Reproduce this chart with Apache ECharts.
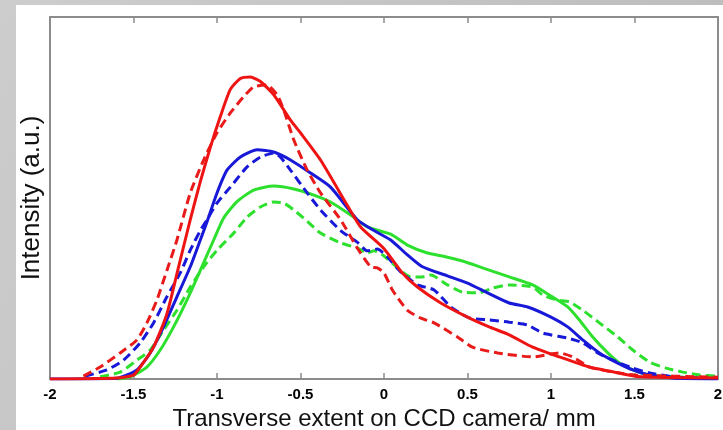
<!DOCTYPE html>
<html>
<head>
<meta charset="utf-8">
<script src="https://cdn.jsdelivr.net/npm/echarts@6/dist/echarts.min.js"></script>
<style>
  html, body { margin: 0; padding: 0; }
  #chart { width: 723px; height: 430px; }
</style>
</head>
<body>
<div id="chart"></div>
<script>
// x ticks
var xTicks = [-2, -1.5, -1, -0.5, 0, 0.5, 1, 1.5, 2];

// profiles [x, intensity]
var redSolid = [
  [-2, 0], [-1.6, 0.003], [-1.5, 0.011], [-1.46, 0.033], [-1.38, 0.088], [-1.3, 0.18],
  [-1.23, 0.31], [-1.16, 0.44], [-1.1, 0.545], [-1.04, 0.64], [-0.98, 0.725],
  [-0.92, 0.8], [-0.86, 0.83], [-0.8, 0.834], [-0.74, 0.822], [-0.66, 0.785], [-0.56, 0.715], [-0.5, 0.68],
  [-0.38, 0.605], [-0.22, 0.48], [-0.14, 0.42], [0, 0.36], [0.11, 0.293], [0.2, 0.254],
  [0.34, 0.21], [0.5, 0.171], [0.63, 0.144], [0.75, 0.122], [0.89, 0.088], [1.05, 0.061],
  [1.23, 0.033], [1.4, 0.017], [1.54, 0.006], [2, 0.003]
];
var redDashed = [
  [-1.8, 0.008], [-1.7, 0.033], [-1.58, 0.072], [-1.48, 0.108], [-1.42, 0.155], [-1.36, 0.218],
  [-1.3, 0.30], [-1.24, 0.384], [-1.16, 0.514], [-1.08, 0.605], [-1.0, 0.68], [-0.92, 0.735],
  [-0.84, 0.78], [-0.78, 0.807], [-0.7, 0.812], [-0.64, 0.785], [-0.6, 0.743], [-0.54, 0.66],
  [-0.46, 0.577], [-0.38, 0.514], [-0.26, 0.44], [-0.16, 0.362], [-0.08, 0.31], [-0.04, 0.307],
  [0, 0.293], [0.05, 0.246], [0.14, 0.19], [0.22, 0.168], [0.3, 0.155], [0.44, 0.116],
  [0.53, 0.088], [0.68, 0.072], [0.89, 0.061], [1.05, 0.072], [1.13, 0.061], [1.23, 0.033],
  [1.4, 0.017], [1.5, 0.011], [2, 0.005]
];
var blueSolid = [
  [-2, 0], [-1.6, 0.002], [-1.48, 0.025], [-1.4, 0.072], [-1.32, 0.144], [-1.24, 0.227],
  [-1.16, 0.31], [-1.1, 0.384], [-1.06, 0.434], [-1.0, 0.514], [-0.94, 0.577], [-0.86, 0.613],
  [-0.76, 0.633], [-0.66, 0.627], [-0.56, 0.605], [-0.44, 0.569], [-0.32, 0.53], [-0.16, 0.44],
  [-0.06, 0.41], [0.04, 0.384], [0.14, 0.343], [0.23, 0.31], [0.38, 0.285], [0.5, 0.265],
  [0.62, 0.238], [0.75, 0.21], [0.86, 0.199], [1.0, 0.171], [1.1, 0.144], [1.19, 0.108],
  [1.29, 0.072], [1.4, 0.044], [1.49, 0.025], [1.59, 0.011], [1.73, 0.003], [2, 0]
];
var blueDashed = [
  [-1.79, 0.008], [-1.66, 0.025], [-1.56, 0.052], [-1.46, 0.1], [-1.38, 0.155], [-1.3, 0.227],
  [-1.22, 0.293], [-1.16, 0.356], [-1.1, 0.41], [-1.06, 0.44], [-1.0, 0.486], [-0.92, 0.53],
  [-0.82, 0.586], [-0.74, 0.613], [-0.66, 0.624], [-0.62, 0.613], [-0.56, 0.577], [-0.46, 0.514],
  [-0.38, 0.467], [-0.26, 0.41], [-0.16, 0.378], [-0.1, 0.354], [-0.04, 0.359], [0.02, 0.337],
  [0.1, 0.296], [0.2, 0.26], [0.3, 0.246], [0.4, 0.199], [0.51, 0.169], [0.63, 0.163],
  [0.75, 0.157], [0.86, 0.149], [0.95, 0.127], [1.1, 0.113], [1.19, 0.1], [1.28, 0.072],
  [1.37, 0.052], [1.49, 0.03], [1.59, 0.017], [1.73, 0.006], [1.9, 0.003]
];
var greenSolid = [
  [-1.6, 0], [-1.52, 0.006], [-1.42, 0.033], [-1.34, 0.08], [-1.26, 0.144], [-1.18, 0.218],
  [-1.1, 0.30], [-1.02, 0.384], [-0.96, 0.445], [-0.88, 0.49], [-0.78, 0.522], [-0.66, 0.533],
  [-0.54, 0.525], [-0.42, 0.508], [-0.32, 0.489], [-0.2, 0.453], [-0.1, 0.42], [0.04, 0.40],
  [0.14, 0.37], [0.26, 0.348], [0.35, 0.34], [0.47, 0.326], [0.59, 0.307], [0.75, 0.282],
  [0.89, 0.26], [0.99, 0.232], [1.1, 0.199], [1.17, 0.163], [1.25, 0.116], [1.34, 0.072],
  [1.41, 0.044], [1.49, 0.025], [1.59, 0.011], [1.73, 0.006], [1.85, 0.003]
];
var greenDashed = [
  [-1.7, 0.006], [-1.58, 0.019], [-1.48, 0.052], [-1.4, 0.08], [-1.32, 0.135], [-1.24, 0.19],
  [-1.16, 0.254], [-1.08, 0.31], [-1.0, 0.356], [-0.9, 0.403], [-0.82, 0.447], [-0.74, 0.475],
  [-0.66, 0.489], [-0.6, 0.486], [-0.54, 0.467], [-0.46, 0.436], [-0.38, 0.403], [-0.26, 0.376],
  [-0.16, 0.362], [-0.1, 0.348], [-0.06, 0.354], [0, 0.34], [0.1, 0.30], [0.16, 0.282],
  [0.23, 0.282], [0.28, 0.287], [0.38, 0.26], [0.47, 0.24], [0.57, 0.238], [0.65, 0.251],
  [0.75, 0.26], [0.89, 0.254], [0.95, 0.232], [1.04, 0.218], [1.11, 0.213], [1.19, 0.19],
  [1.29, 0.155], [1.4, 0.116], [1.49, 0.08], [1.59, 0.047], [1.69, 0.03], [1.79, 0.019],
  [1.89, 0.011], [1.99, 0.008]
];

var chart = echarts.init(document.getElementById("chart"));

function curve(data, color, dashed) {
  return {
    type: "line",
    data: data,
    showSymbol: false,
    smooth: 0.2,
    silent: true,
    lineStyle: {
      color: color,
      width: 3,
      type: dashed ? [9, 5] : "solid"
    }
  };
}

var axisGray = "#8c8c8c";

var option = {
  backgroundColor: new echarts.graphic.LinearGradient(0, 0, 1, 1, [
    { offset: 0, color: "#cdcdcd" },
    { offset: 1, color: "#b8b8b8" }
  ]),
  animation: false,
  graphic: [{
    type: "rect",
    left: 16,
    top: 5,
    shape: { width: 707, height: 425 },
    style: { fill: "#ffffff" },
    z: -10
  }],
  grid: { left: 50, right: 5, top: 17, bottom: 51, outerBoundsMode: "none" },
  xAxis: [{
    type: "value",
    min: -2,
    max: 2,
    interval: 0.5,
    position: "bottom",
    name: "Transverse extent on CCD camera/ mm",
    nameLocation: "middle",
    nameGap: 27,
    nameTextStyle: { fontFamily: "Liberation Sans", fontSize: 24, color: "#111" },
    axisLine: { onZero: false, lineStyle: { color: axisGray, width: 2 } },
    axisTick: { inside: true, length: 6, lineStyle: { color: axisGray, width: 1.5 } },
    axisLabel: {
      margin: 8,
      fontFamily: "Liberation Sans",
      fontWeight: "bold",
      fontSize: 15,
      color: "#000",
      formatter: function (v) { return xTicks.indexOf(v) >= 0 ? String(v) : ""; }
    },
    splitLine: { show: false }
  }, {
    type: "value",
    min: -2,
    max: 2,
    interval: 0.5,
    position: "top",
    axisLine: { onZero: false, lineStyle: { color: axisGray, width: 2 } },
    axisTick: { inside: true, length: 6, lineStyle: { color: axisGray, width: 1.5 } },
    axisLabel: { show: false },
    splitLine: { show: false }
  }],
  yAxis: [{
    type: "value",
    min: 0,
    max: 1,
    position: "left",
    name: "Intensity (a.u.)",
    nameLocation: "middle",
    nameGap: 5,
    nameTextStyle: { fontFamily: "Liberation Sans", fontSize: 26, color: "#111" },
    axisLine: { show: true, onZero: false, lineStyle: { color: axisGray, width: 2 } },
    axisTick: { show: false },
    axisLabel: { show: false },
    splitLine: { show: false }
  }, {
    type: "value",
    min: 0,
    max: 1,
    position: "right",
    axisLine: { show: true, onZero: false, lineStyle: { color: axisGray, width: 2 } },
    axisTick: { show: false },
    axisLabel: { show: false },
    splitLine: { show: false }
  }],
  series: [
    curve(greenDashed, "#2ee02e", true),
    curve(greenSolid, "#2ee02e", false),
    curve(blueDashed, "#1818d8", true),
    curve(blueSolid, "#1818d8", false),
    curve(redDashed, "#e81a1a", true),
    curve(redSolid, "#ee1414", false)
  ]
};

chart.setOption(option);
</script>
</body>
</html>
